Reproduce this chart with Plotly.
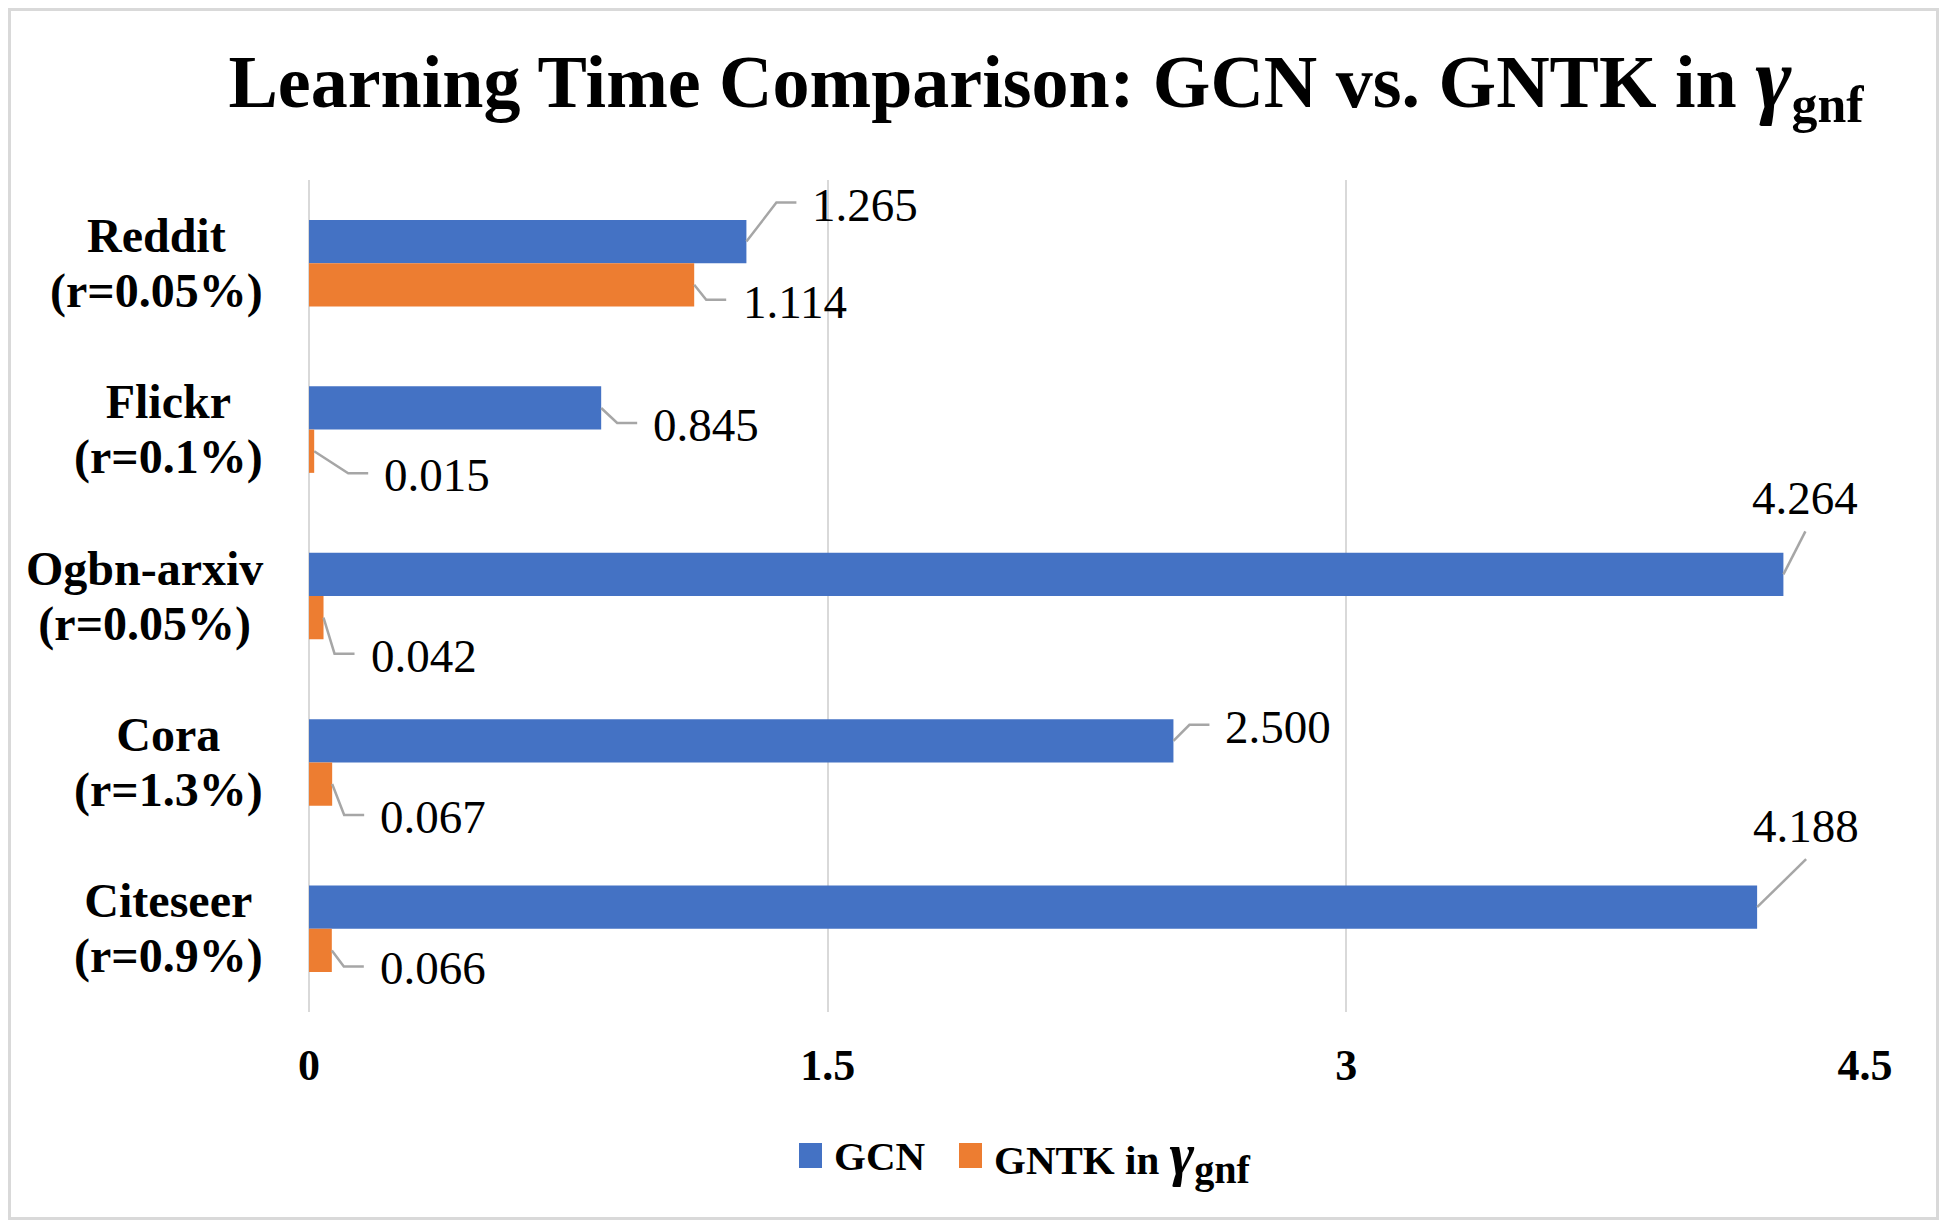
import plotly.graph_objects as go

# --- data ---
cat_names = ["Reddit", "Flickr", "Ogbn-arxiv", "Cora", "Citeseer"]
cat_ratios = ["(r=0.05%)", "(r=0.1%)", "(r=0.05%)", "(r=1.3%)", "(r=0.9%)"]
gcn_time = [1.265, 0.845, 4.264, 2.500, 4.188]
gntk_time = [1.114, 0.015, 0.042, 0.067, 0.066]
x_ticks = [0, 1.5, 3, 4.5]
gamma = "<i><span style='font-size:118%'>γ</span></i><sub>gnf</sub>"
gamma_leg = "<i><span style='font-size:145%'>γ</span></i><sub><span style='font-size:140%'>gnf</span></sub>"
series_names = ["<b>GCN</b>", "<b>GNTK in " + gamma_leg + "</b>"]
title_text = "<b>Learning Time Comparison: GCN vs. GNTK in " + gamma + "</b>"
categories = [f"{n}<br>{r}" for n, r in zip(cat_names, cat_ratios)]

# --- layout constants (window pixels; page body adds an 8px margin) ---
WIN_W, WIN_H, OFF = 1947, 1228, 8
W, H = WIN_W - 2 * OFF, WIN_H - 2 * OFF
L, R, T, B = 309 - OFF, 82 - OFF, 180 - OFF, 216 - OFF
PW, PH = W - L - R, H - T - B
FONT = "Liberation Serif"
BLUE, ORANGE = "#4472C4", "#ED7D31"
GRID = "#D9D9D9"
LEADER = "#A6A6A6"
BAR_OFF = 0.13  # half a bar in category units (bargap 0.48)

# label offsets from bar end (dx right, dy down), pixels
gcn_label_off = [(119, -37), (105, 17), (22, -76), (105, -14), (49, -81)]
gntk_label_off = [(101, 17), (123, 24), (100, 38), (101, 33), (101, 18)]


def paper_x(px):
    return (px - OFF - L) / PW


def paper_y(py):
    return (H - B - (py - OFF)) / PH


fig = go.Figure()
fig.add_trace(go.Bar(y=categories, x=gcn_time, orientation="h", name=series_names[0],
                     marker=dict(color=BLUE, line=dict(width=0)), showlegend=False))
fig.add_trace(go.Bar(y=categories, x=gntk_time, orientation="h", name=series_names[1],
                     marker=dict(color=ORANGE, line=dict(width=0)), showlegend=False))

annotations = []
shapes = []

# category labels: lines centred on each other, block right edge near the axis
# (annotation font sets the line spacing, the span sets the glyph size)
for cat, name, ratio in zip(categories, cat_names, cat_ratios):
    txt = (f"<b><span style='font-size:48px'>{name}</span><br>"
           f"<span style='font-size:48px'>{ratio}</span></b>")
    annotations.append(dict(x=paper_x(265), xref="paper", y=cat, yref="y",
                            text=txt, showarrow=False, xanchor="right", yanchor="middle",
                            align="center", font=dict(family=FONT, size=42, color="black")))

# data labels with elbow leader lines
for values, offs, side in [(gcn_time, gcn_label_off, -1), (gntk_time, gntk_label_off, 1)]:
    for i, (v, (dx, dy)) in enumerate(zip(values, offs)):
        yc = i + side * BAR_OFF
        annotations.append(dict(x=v, y=yc, xref="x", yref="y", text=f"{v:.3f}",
                                showarrow=False, xshift=dx, yshift=-dy,
                                xanchor="center", yanchor="middle",
                                font=dict(family=FONT, size=47, color="black")))
        if dx < 60:
            path = f"M0,0 L{dx},{-(dy + 33)}"
        else:
            kx, ex, ly = dx - 89, dx - 69, dy - 2
            path = f"M0,0 L{kx},{-ly} L{ex},{-ly}"
        shapes.append(dict(type="path", xref="x", yref="y", xsizemode="pixel",
                           ysizemode="pixel", xanchor=v, yanchor=yc, path=path,
                           line=dict(color=LEADER, width=2.5)))

# legend: colour keys and names
legend_keys = [(799, BLUE, series_names[0]), (959, ORANGE, series_names[1])]
for kx, col, name in legend_keys:
    shapes.append(dict(type="rect", xref="paper", yref="paper", xsizemode="pixel",
                       ysizemode="pixel", xanchor=paper_x(kx), yanchor=paper_y(1156),
                       x0=0, x1=23, y0=-12, y1=13, fillcolor=col, line=dict(width=0)))
    annotations.append(dict(x=paper_x(kx + 33), y=paper_y(1156), xref="paper", yref="paper",
                            text=name, showarrow=False, xanchor="left", yanchor="middle",
                            font=dict(family=FONT, size=41, color="black")))

# chart border, kept just inside the figure
shapes.append(dict(type="rect", xref="paper", yref="paper",
                   x0=paper_x(OFF + 1.5), x1=paper_x(WIN_W - OFF - 1.5),
                   y0=paper_y(WIN_H - OFF - 1.5), y1=paper_y(OFF + 1.5),
                   line=dict(color=GRID, width=3), fillcolor="rgba(0,0,0,0)", layer="below"))

fig.update_layout(
    width=W, height=H,
    margin=dict(l=L, r=R, t=T, b=B),
    paper_bgcolor="white", plot_bgcolor="white",
    barmode="group", bargap=0.48, bargroupgap=0,
    showlegend=False,
    title=dict(text=title_text, xref="container", yref="container",
               x=(1046 - OFF) / W, y=1 - (81 - OFF) / H, xanchor="center", yanchor="middle",
               font=dict(family=FONT, size=74, color="black")),
    xaxis=dict(range=[0, 4.5], tickvals=x_ticks, ticktext=[f"{t:g}" for t in x_ticks],
               showgrid=True, gridcolor=GRID, gridwidth=2,
               zeroline=True, zerolinecolor=GRID, zerolinewidth=2,
               showline=False, ticks="", ticklabelstandoff=23,
               tickfont=dict(family=FONT, size=44, color="black", weight="bold")),
    yaxis=dict(range=[4.5, -0.5], showticklabels=False, showgrid=False,
               zeroline=False, showline=False, ticks=""),
    annotations=annotations,
    shapes=shapes,
)

fig.write_html("out.html")
